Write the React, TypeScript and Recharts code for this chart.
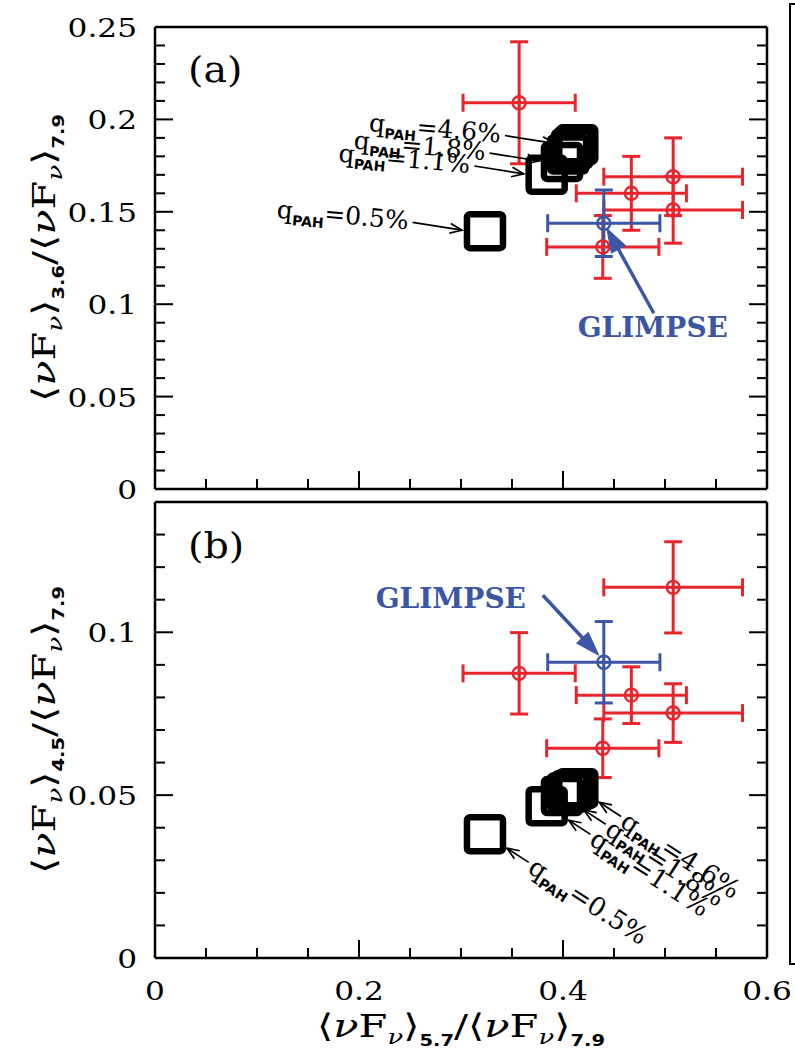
import React from "react";
import { ErrorBar, Scatter, ScatterChart, XAxis, YAxis } from "recharts";

const RED = "#e8242c";
const BLUE = "#3c56a6";
const SERIF = "'DejaVu Serif', serif";
const SANS = "'DejaVu Sans', sans-serif";
const AXIS = { stroke: "#000", strokeWidth: 2.5 };

// observed regions: band ratios and 1-sigma errors
const ratio57 = [0.357, 0.467, 0.508, 0.508, 0.439];
const ratio57Err = [0.055, 0.054, 0.068, 0.068, 0.055];
const ratio36 = [0.209, 0.16, 0.169, 0.151, 0.131];
const ratio36Err = [0.033, 0.02, 0.021, 0.018, 0.017];
const ratio45 = [0.0874, 0.0807, 0.1138, 0.0752, 0.0644];
const ratio45Err = [0.0125, 0.0087, 0.014, 0.009, 0.009];

// GLIMPSE average
const glimpse57 = 0.44;
const glimpse57Err = 0.055;
const glimpse36 = 0.1438;
const glimpse36Err = 0.018;
const glimpse45 = 0.0908;
const glimpse45Err = 0.0125;

// dust models, one per PAH mass fraction
const qPah = ["0.5", "1.1", "1.8", "2.5", "3.2", "3.9", "4.6"];
const model57 = [0.3235, 0.384, 0.399, 0.405, 0.409, 0.412, 0.414];
const model36 = [0.1395, 0.17, 0.177, 0.181, 0.184, 0.1855, 0.1865];
const model45 = [0.038, 0.0466, 0.0497, 0.0508, 0.0514, 0.0518, 0.0521];
const labelled = ["0.5", "1.1", "1.8", "4.6"];

const xTicks = [0, 0.05, 0.1, 0.15, 0.2, 0.25, 0.3, 0.35, 0.4, 0.45, 0.5, 0.55, 0.6];
const yTicksA = [
  0, 0.01, 0.02, 0.03, 0.04, 0.05, 0.06, 0.07, 0.08, 0.09, 0.1, 0.11, 0.12, 0.13,
  0.14, 0.15, 0.16, 0.17, 0.18, 0.19, 0.2, 0.21, 0.22, 0.23, 0.24, 0.25,
];
const yTicksB = [0, 0.01, 0.02, 0.03, 0.04, 0.05, 0.06, 0.07, 0.08, 0.09, 0.1, 0.11, 0.12, 0.13, 0.14];

const obsA = ratio57.map((x, i) => ({ x, y: ratio36[i], ex: ratio57Err[i], ey: ratio36Err[i] }));
const obsB = ratio57.map((x, i) => ({ x, y: ratio45[i], ex: ratio57Err[i], ey: ratio45Err[i] }));
const glimpseA = [{ x: glimpse57, y: glimpse36, ex: glimpse57Err, ey: glimpse36Err }];
const glimpseB = [{ x: glimpse57, y: glimpse45, ex: glimpse57Err, ey: glimpse45Err }];
const modelsA = qPah.map((q, i) => ({ q, x: model57[i], y: model36[i] }));
const modelsB = qPah.map((q, i) => ({ q, x: model57[i], y: model45[i] }));

const near = (v: number, step: number) => Math.abs(v / step - Math.round(v / step)) < 1e-6;
const fmt = (v: number) => (v === 0 ? "0" : String(v));

// inward ticks, long on labelled values
const tickBottom = (showLabel: boolean) => (p: any) => {
  const { x, y, payload } = p;
  const major = near(payload.value, 0.2);
  return (
    <g>
      <line x1={x} x2={x} y1={y} y2={y - (major ? 18 : 10)} stroke="#000" strokeWidth={2} />
      {showLabel && major && (
        <text transform={`translate(${x},${y + 42}) scale(1.2,1)`} textAnchor="middle"
          fontFamily={SERIF} fontSize={26} fill="#000">
          {fmt(payload.value)}
        </text>
      )}
    </g>
  );
};

const tickTop = (p: any) => {
  const { x, y, payload } = p;
  const major = near(payload.value, 0.2);
  return <line x1={x} x2={x} y1={y} y2={y + (major ? 18 : 10)} stroke="#000" strokeWidth={2} />;
};

const tickLeft = (p: any) => {
  const { x, y, payload } = p;
  const major = near(payload.value, 0.05);
  return (
    <g>
      <line x1={x} x2={x + (major ? 18 : 10)} y1={y} y2={y} stroke="#000" strokeWidth={2} />
      {major && (
        <text transform={`translate(${x - 18},${y + 10}) scale(1.2,1)`} textAnchor="end"
          fontFamily={SERIF} fontSize={26} fill="#000">
          {fmt(payload.value)}
        </text>
      )}
    </g>
  );
};

const tickRight = (p: any) => {
  const { x, y, payload } = p;
  const major = near(payload.value, 0.05);
  return <line x1={x} x2={x - (major ? 18 : 10)} y1={y} y2={y} stroke="#000" strokeWidth={2} />;
};

function RatioText({ num }: { num: string }) {
  return (
    <>
      <tspan>⟨</tspan>
      <tspan fontStyle="italic">ν</tspan>
      <tspan>F</tspan>
      <tspan dy={7} fontSize={20} fontStyle="italic">ν</tspan>
      <tspan dy={-7}>⟩</tspan>
      <tspan dy={9} fontFamily={SANS} fontWeight="bold" fontSize={15}>{num}</tspan>
      <tspan dy={-9}>/⟨</tspan>
      <tspan fontStyle="italic">ν</tspan>
      <tspan>F</tspan>
      <tspan dy={7} fontSize={20} fontStyle="italic">ν</tspan>
      <tspan dy={-7}>⟩</tspan>
      <tspan dy={9} fontFamily={SANS} fontWeight="bold" fontSize={15}>7.9</tspan>
    </>
  );
}

const xTitle = (p: any) => {
  const { x, y, width } = p.viewBox;
  return (
    <text transform={`translate(${x + width / 2},${y + 79}) scale(1.3,1)`} textAnchor="middle"
      fontFamily={SERIF} fontSize={32} fill="#000">
      <RatioText num="5.7" />
    </text>
  );
};

const yTitle = (num: string) => (p: any) => {
  const { x, y, height } = p.viewBox;
  return (
    <text transform={`translate(${x - 99},${y + height / 2}) rotate(-90) scale(1.3,1)`}
      textAnchor="middle" fontFamily={SERIF} fontSize={32} fill="#000">
      <RatioText num={num} />
    </text>
  );
};

const panelTag = (tag: string, dy: number) => (p: any) => {
  const { x, y } = p.viewBox;
  return (
    <text transform={`translate(${x + 33},${y + dy}) scale(1.1,1)`} fontFamily={SERIF}
      fontSize={36} fill="#000">
      {tag}
    </text>
  );
};

function OpenArrow({ x1, y1, x2, y2 }: any) {
  const a = Math.atan2(y2 - y1, x2 - x1);
  const h = 13;
  const s = 0.38;
  const p1 = `${x2 - h * Math.cos(a - s)},${y2 - h * Math.sin(a - s)}`;
  const p2 = `${x2 - h * Math.cos(a + s)},${y2 - h * Math.sin(a + s)}`;
  return (
    <g stroke="#000" strokeWidth={1.7} fill="none">
      <line x1={x1} y1={y1} x2={x2} y2={y2} />
      <polyline points={`${p1} ${x2},${y2} ${p2}`} />
    </g>
  );
}

function FilledArrow({ x1, y1, x2, y2 }: any) {
  const a = Math.atan2(y2 - y1, x2 - x1);
  const h = 24;
  const w = 8;
  const bx = x2 - h * Math.cos(a);
  const by = y2 - h * Math.sin(a);
  const nx = -Math.sin(a) * w;
  const ny = Math.cos(a) * w;
  return (
    <g fill={BLUE} stroke={BLUE}>
      <line x1={x1} y1={y1} x2={bx} y2={by} strokeWidth={3.5} />
      <polygon points={`${x2},${y2} ${bx + nx},${by + ny} ${bx - nx},${by - ny}`} strokeWidth={1} />
    </g>
  );
}

function QText({ q }: { q: string }) {
  return (
    <>
      <tspan>q</tspan>
      <tspan dy={6} fontFamily={SANS} fontWeight="bold" fontSize={14}>PAH</tspan>
      <tspan dy={-6}>={q}%</tspan>
    </>
  );
}

// panel (a): label sits left of the square, arrow points right
const labelLeft = (p: any) => {
  const { cx, cy, payload } = p;
  const a = (9 * Math.PI) / 180;
  const tipX = cx - 23;
  const tipY = cy - 1;
  const tailX = tipX - 50 * Math.cos(a);
  const tailY = tipY - 50 * Math.sin(a);
  return (
    <g>
      <OpenArrow x1={tailX} y1={tailY} x2={tipX} y2={tipY} />
      <text transform={`translate(${tailX - 4},${tailY - 2}) rotate(5)`} dy={9} textAnchor="end"
        fontFamily={SERIF} fontSize={25} fill="#000">
        <QText q={payload.q} />
      </text>
    </g>
  );
};

// panel (b): label runs down-right from the square's lower corner
const labelBelow = (p: any) => {
  const { cx, cy, payload } = p;
  const deg = 33;
  const a = (deg * Math.PI) / 180;
  const tipX = cx + 22;
  const tipY = cy + 14;
  const tailX = tipX + 26 * Math.cos(a);
  const tailY = tipY + 26 * Math.sin(a);
  return (
    <g>
      <OpenArrow x1={tailX} y1={tailY} x2={tipX} y2={tipY} />
      <text transform={`translate(${tailX + 3 * Math.cos(a)},${tailY + 3 * Math.sin(a)}) rotate(${deg})`}
        dy={9} fontFamily={SERIF} fontSize={26} fill="#000">
        <QText q={payload.q} />
      </text>
    </g>
  );
};

const glimpseTag = (arrow: number[], text: number[]) => (p: any) => {
  const { cx, cy } = p;
  return (
    <g>
      <FilledArrow x1={cx + arrow[0]} y1={cy + arrow[1]} x2={cx + arrow[2]} y2={cy + arrow[3]} />
      <text x={cx + text[0]} y={cy + text[1]} textAnchor="middle" fontFamily={SERIF}
        fontWeight="bold" fontSize={28} fill={BLUE}>
        GLIMPSE
      </text>
    </g>
  );
};

const squareShape = (p: any) => (
  <rect x={p.cx - 18} y={p.cy - 17} width={36} height={34} rx={3} fill="none" stroke="#000" strokeWidth={6.5} />
);

const ring = (color: string) => (p: any) => {
  const { cx, cy } = p;
  const r = 6.5;
  return (
    <g stroke={color} strokeWidth={2.4} fill="none">
      <circle cx={cx} cy={cy} r={r} />
      <line x1={cx - r} x2={cx + r} y1={cy} y2={cy} />
      <line x1={cx} x2={cx} y1={cy - r} y2={cy + r} />
    </g>
  );
};

function Panel(props: any) {
  const { top, height, margin, yMax, yTicks, tag, tagDy, yNum, obs, glimpse, models, labelShape, glimpseShape, showX } = props;
  return (
    <div style={{ position: "absolute", left: 0, top }}>
      <ScatterChart width={795} height={height} margin={margin}>
        <XAxis xAxisId="b" type="number" dataKey="x" domain={[0, 0.6]} ticks={xTicks} interval={0}
          height={1} tickSize={0} tickMargin={0} tickLine={false} axisLine={AXIS} tick={tickBottom(showX)}
          allowDataOverflow label={showX ? { content: xTitle } : undefined} />
        <XAxis xAxisId="t" orientation="top" type="number" domain={[0, 0.6]} ticks={xTicks} interval={0}
          height={1} tickSize={0} tickMargin={0} tickLine={false} axisLine={AXIS} tick={tickTop} allowDataOverflow
          label={{ content: panelTag(tag, tagDy) }} />
        <YAxis yAxisId="l" type="number" dataKey="y" domain={[0, yMax]} ticks={yTicks} interval={0}
          width={1} tickSize={0} tickMargin={0} tickLine={false} axisLine={AXIS} tick={tickLeft} allowDataOverflow
          label={{ content: yTitle(yNum) }} />
        <YAxis yAxisId="r" orientation="right" type="number" domain={[0, yMax]} ticks={yTicks} interval={0}
          width={1} tickSize={0} tickMargin={0} tickLine={false} axisLine={AXIS} tick={tickRight} allowDataOverflow />

        <Scatter xAxisId="b" yAxisId="l" data={models} shape={squareShape} isAnimationActive={false} />
        <Scatter xAxisId="b" yAxisId="l" data={models.filter((m: any) => labelled.includes(m.q))}
          shape={labelShape} isAnimationActive={false} />
        <Scatter xAxisId="b" yAxisId="l" data={obs} shape={ring(RED)} isAnimationActive={false}>
          <ErrorBar dataKey="ex" direction="x" width={9} stroke={RED} strokeWidth={3} />
          <ErrorBar dataKey="ey" direction="y" width={9} stroke={RED} strokeWidth={3} />
        </Scatter>
        <Scatter xAxisId="b" yAxisId="l" data={glimpse} shape={ring(BLUE)} isAnimationActive={false}>
          <ErrorBar dataKey="ex" direction="x" width={9} stroke={BLUE} strokeWidth={3} />
          <ErrorBar dataKey="ey" direction="y" width={9} stroke={BLUE} strokeWidth={3} />
        </Scatter>
        <Scatter xAxisId="b" yAxisId="l" data={glimpse} shape={glimpseShape} isAnimationActive={false} />
      </ScatterChart>
    </div>
  );
}

export default function App() {
  return (
    <div style={{ position: "absolute", left: 0, top: 0, width: 795, height: 1050, overflow: "hidden", background: "#fff" }}>
      <Panel
        top={0}
        height={505}
        margin={{ top: 26, right: 27, bottom: 15, left: 154 }}
        yMax={0.25}
        yTicks={yTicksA}
        tag="(a)"
        tagDy={56}
        yNum="3.6"
        obs={obsA}
        glimpse={glimpseA}
        models={modelsA}
        labelShape={labelLeft}
        glimpseShape={glimpseTag([50, 90, 3, 5], [49, 114])}
        showX={false}
      />
      <Panel
        top={490}
        height={560}
        margin={{ top: 11, right: 27, bottom: 91, left: 154 }}
        yMax={0.14}
        yTicks={yTicksB}
        tag="(b)"
        tagDy={57}
        yNum="4.5"
        obs={obsB}
        glimpse={glimpseB}
        models={modelsB}
        labelShape={labelBelow}
        glimpseShape={glimpseTag([-61, -67, -5, -7], [-153, -54])}
        showX={true}
      />
      <div style={{ position: "absolute", left: 789, top: 3, width: 40, height: 962, border: "2px solid #000", boxSizing: "border-box" }} />
    </div>
  );
}
